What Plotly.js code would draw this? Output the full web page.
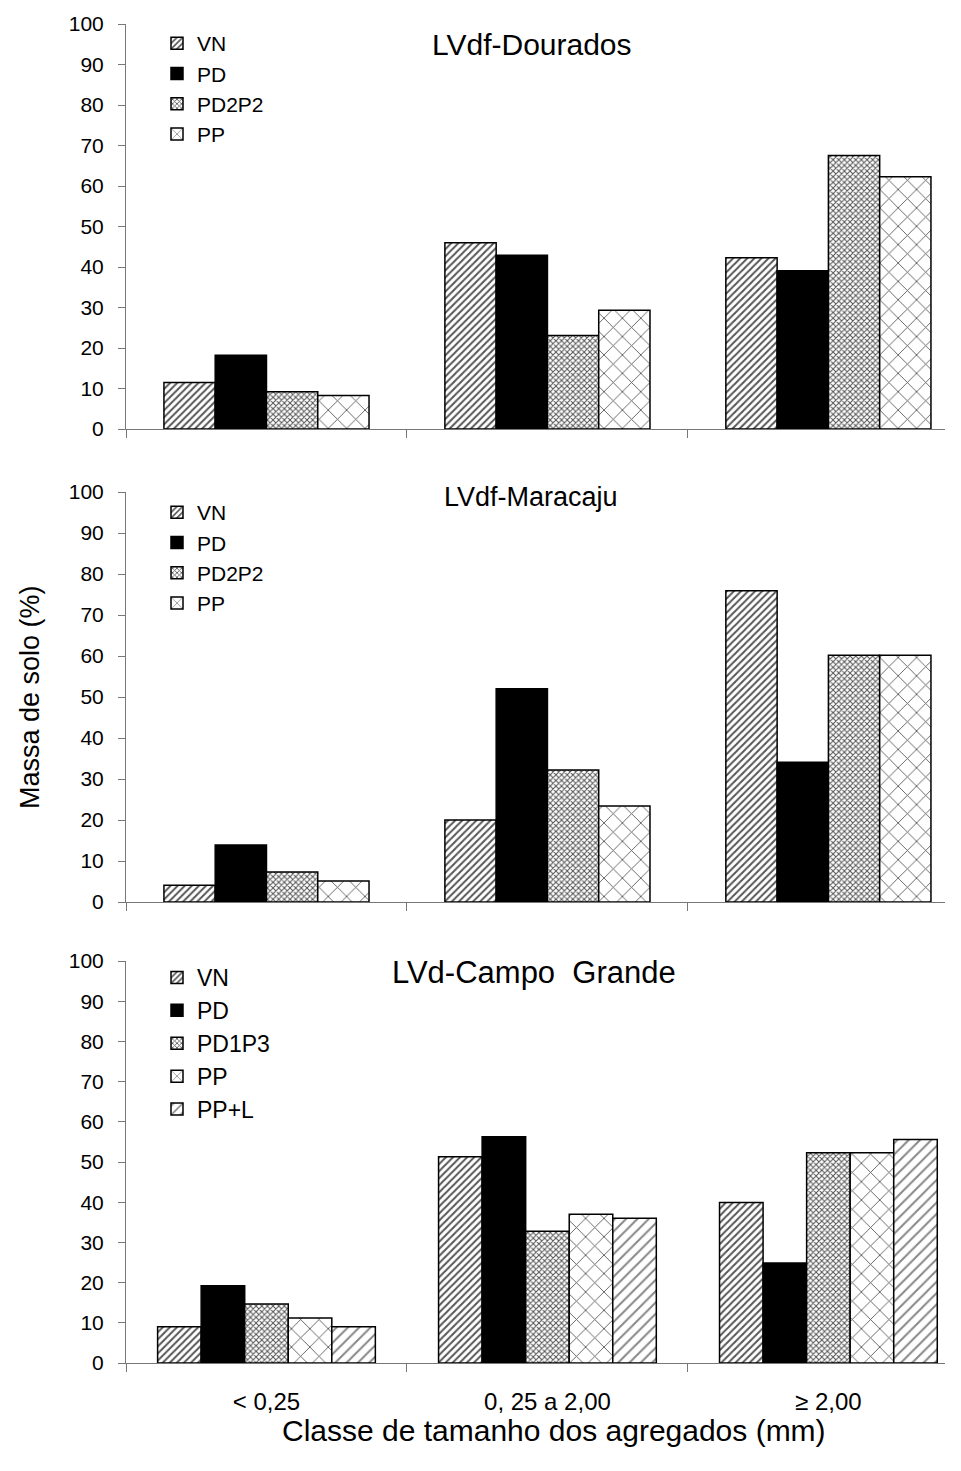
<!DOCTYPE html>
<html>
<head>
<meta charset="utf-8">
<script src="https://cdn.plot.ly/plotly-3.0.1.min.js"></script>
<style>html,body{margin:0;padding:0;background:#fff;}#chart{width:961px;height:1471px;}</style>
</head>
<body>
<div id="chart"></div>
<script>
// ---- data ----
const categories = ["< 0,25", "0, 25 a 2,00", "\u2265 2,00"];

const panelTitles = ["LVdf-Dourados", "LVdf-Maracaju", "LVd-Campo\u00a0 Grande"];

const douradosNames = ["VN", "PD", "PD2P2", "PP"];
const douradosVN    = [11.5, 46.0, 42.3];
const douradosPD    = [18.2, 42.9, 39.1];
const douradosPD2P2 = [9.2, 23.1, 67.5];
const douradosPP    = [8.3, 29.3, 62.3];

const maracajuNames = ["VN", "PD", "PD2P2", "PP"];
const maracajuVN    = [4.1, 20.0, 75.9];
const maracajuPD    = [13.9, 52.0, 34.1];
const maracajuPD2P2 = [7.3, 32.2, 60.2];
const maracajuPP    = [5.1, 23.4, 60.2];

const campoNames  = ["VN", "PD", "PD1P3", "PP", "PP+L"];
const campoVN     = [9.0, 51.3, 39.9];
const campoPD     = [19.2, 56.3, 24.9];
const campoPD1P3  = [14.7, 32.8, 52.3];
const campoPP     = [11.2, 37.0, 52.3];
const campoPPL    = [9.0, 36.0, 55.6];

const yTitle = "Massa de solo (%)";
const xTitle = "Classe de tamanho dos agregados (mm)";

// ---- styles ----
const FONT = "Liberation Sans, Arial, sans-serif";
const styles = {
  VN:    {color: "white", pattern: {shape: "/", size: 5, solidity: 0.4, fgcolor: "#555", bgcolor: "white"}},
  PD:    {color: "black"},
  PD2P2: {color: "white", pattern: {shape: "x", size: 4, solidity: 0.45, fgcolor: "#555", bgcolor: "white"}},
  PD1P3: {color: "white", pattern: {shape: "x", size: 4, solidity: 0.45, fgcolor: "#555", bgcolor: "white"}},
  PP:    {color: "white", pattern: {shape: "x", size: 13, solidity: 0.13, fgcolor: "#555", bgcolor: "white"}},
  "PP+L":{color: "white", pattern: {shape: "/", size: 8, solidity: 0.25, fgcolor: "#888", bgcolor: "white"}}
};

function makeTraces(names, series, ax, legendId, groupWidth) {
  const n = names.length;
  const w = groupWidth / n;
  return names.map((nm, i) => {
    const st = styles[nm];
    const marker = {color: st.color, line: {color: "black", width: 1.5}};
    if (st.pattern) marker.pattern = st.pattern;
    return {
      type: "bar",
      name: nm,
      x: categories,
      y: series[i],
      xaxis: "x" + (ax === 1 ? "" : ax),
      yaxis: "y" + (ax === 1 ? "" : ax),
      width: w,
      offset: -groupWidth / 2 + i * w,
      marker: marker,
      legend: legendId,
      hoverinfo: "skip"
    };
  });
}

const traces = [].concat(
  makeTraces(douradosNames, [douradosVN, douradosPD, douradosPD2P2, douradosPP], 1, "legend", 0.73),
  makeTraces(maracajuNames, [maracajuVN, maracajuPD, maracajuPD2P2, maracajuPP], 2, "legend2", 0.73),
  makeTraces(campoNames, [campoVN, campoPD, campoPD1P3, campoPP, campoPPL], 3, "legend3", 0.775)
);

const H = 1471, L = 126, R = 16, PW = 961 - L - R;
const py = p => 1 - p / H;
const px = p => (p - L) / PW;

function xax(anchor, showLabels) {
  return {
    anchor: anchor, type: "category", range: [-0.5, 2.415],
    showline: true, linecolor: "#777", linewidth: 1,
    ticks: "outside", tickson: "boundaries", ticklen: 8, tickcolor: "#777",
    showgrid: false, zeroline: false,
    showticklabels: showLabels, ticklabelstandoff: 17,
    tickfont: {family: FONT, size: 24, color: "black"}
  };
}
function yax(anchor, domain) {
  return {
    anchor: anchor, domain: domain, range: [0, 100], dtick: 10,
    showline: true, linecolor: "#777", linewidth: 1,
    ticks: "outside", ticklen: 7, tickcolor: "#777",
    showgrid: false, zeroline: false, ticklabelstandoff: 10,
    tickfont: {family: FONT, size: 21, color: "black"}
  };
}
function leg(topPix, fs) {
  return {
    x: px(157), y: py(topPix), xanchor: "left", yanchor: "top",
    bgcolor: "rgba(0,0,0,0)", borderwidth: 0,
    font: {family: FONT, size: fs, color: "black"},
    traceorder: "normal", itemclick: false, itemdoubleclick: false
  };
}

const layout = {
  width: 961, height: H,
  margin: {l: L, r: R, t: 0, b: 0},
  paper_bgcolor: "white", plot_bgcolor: "white",
  barmode: "overlay",
  showlegend: true,
  font: {family: FONT, color: "black"},
  xaxis: xax("y", false),
  xaxis2: xax("y2", false),
  xaxis3: xax("y3", true),
  yaxis: yax("x", [py(429), py(24)]),
  yaxis2: yax("x2", [py(902), py(492)]),
  yaxis3: yax("x3", [py(1363), py(961)]),
  legend: leg(23, 21),
  legend2: leg(492, 21),
  legend3: leg(956, 23),
  annotations: [
    {text: panelTitles[0], x: px(532), y: py(45), xref: "paper", yref: "paper", showarrow: false, xanchor: "center", yanchor: "middle", font: {family: FONT, size: 30}},
    {text: panelTitles[1], x: px(531), y: py(497), xref: "paper", yref: "paper", showarrow: false, xanchor: "center", yanchor: "middle", font: {family: FONT, size: 27}},
    {text: panelTitles[2], x: px(534), y: py(972), xref: "paper", yref: "paper", showarrow: false, xanchor: "center", yanchor: "middle", font: {family: FONT, size: 31}},
    {text: yTitle, x: px(30), y: py(697), xref: "paper", yref: "paper", showarrow: false, xanchor: "center", yanchor: "middle", textangle: -90, font: {family: FONT, size: 27}},
    {text: xTitle, x: px(554), y: py(1430), xref: "paper", yref: "paper", showarrow: false, xanchor: "center", yanchor: "middle", font: {family: FONT, size: 30}}
  ]
};

Plotly.newPlot("chart", traces, layout, {displayModeBar: false, staticPlot: true});
</script>
</body>
</html>
